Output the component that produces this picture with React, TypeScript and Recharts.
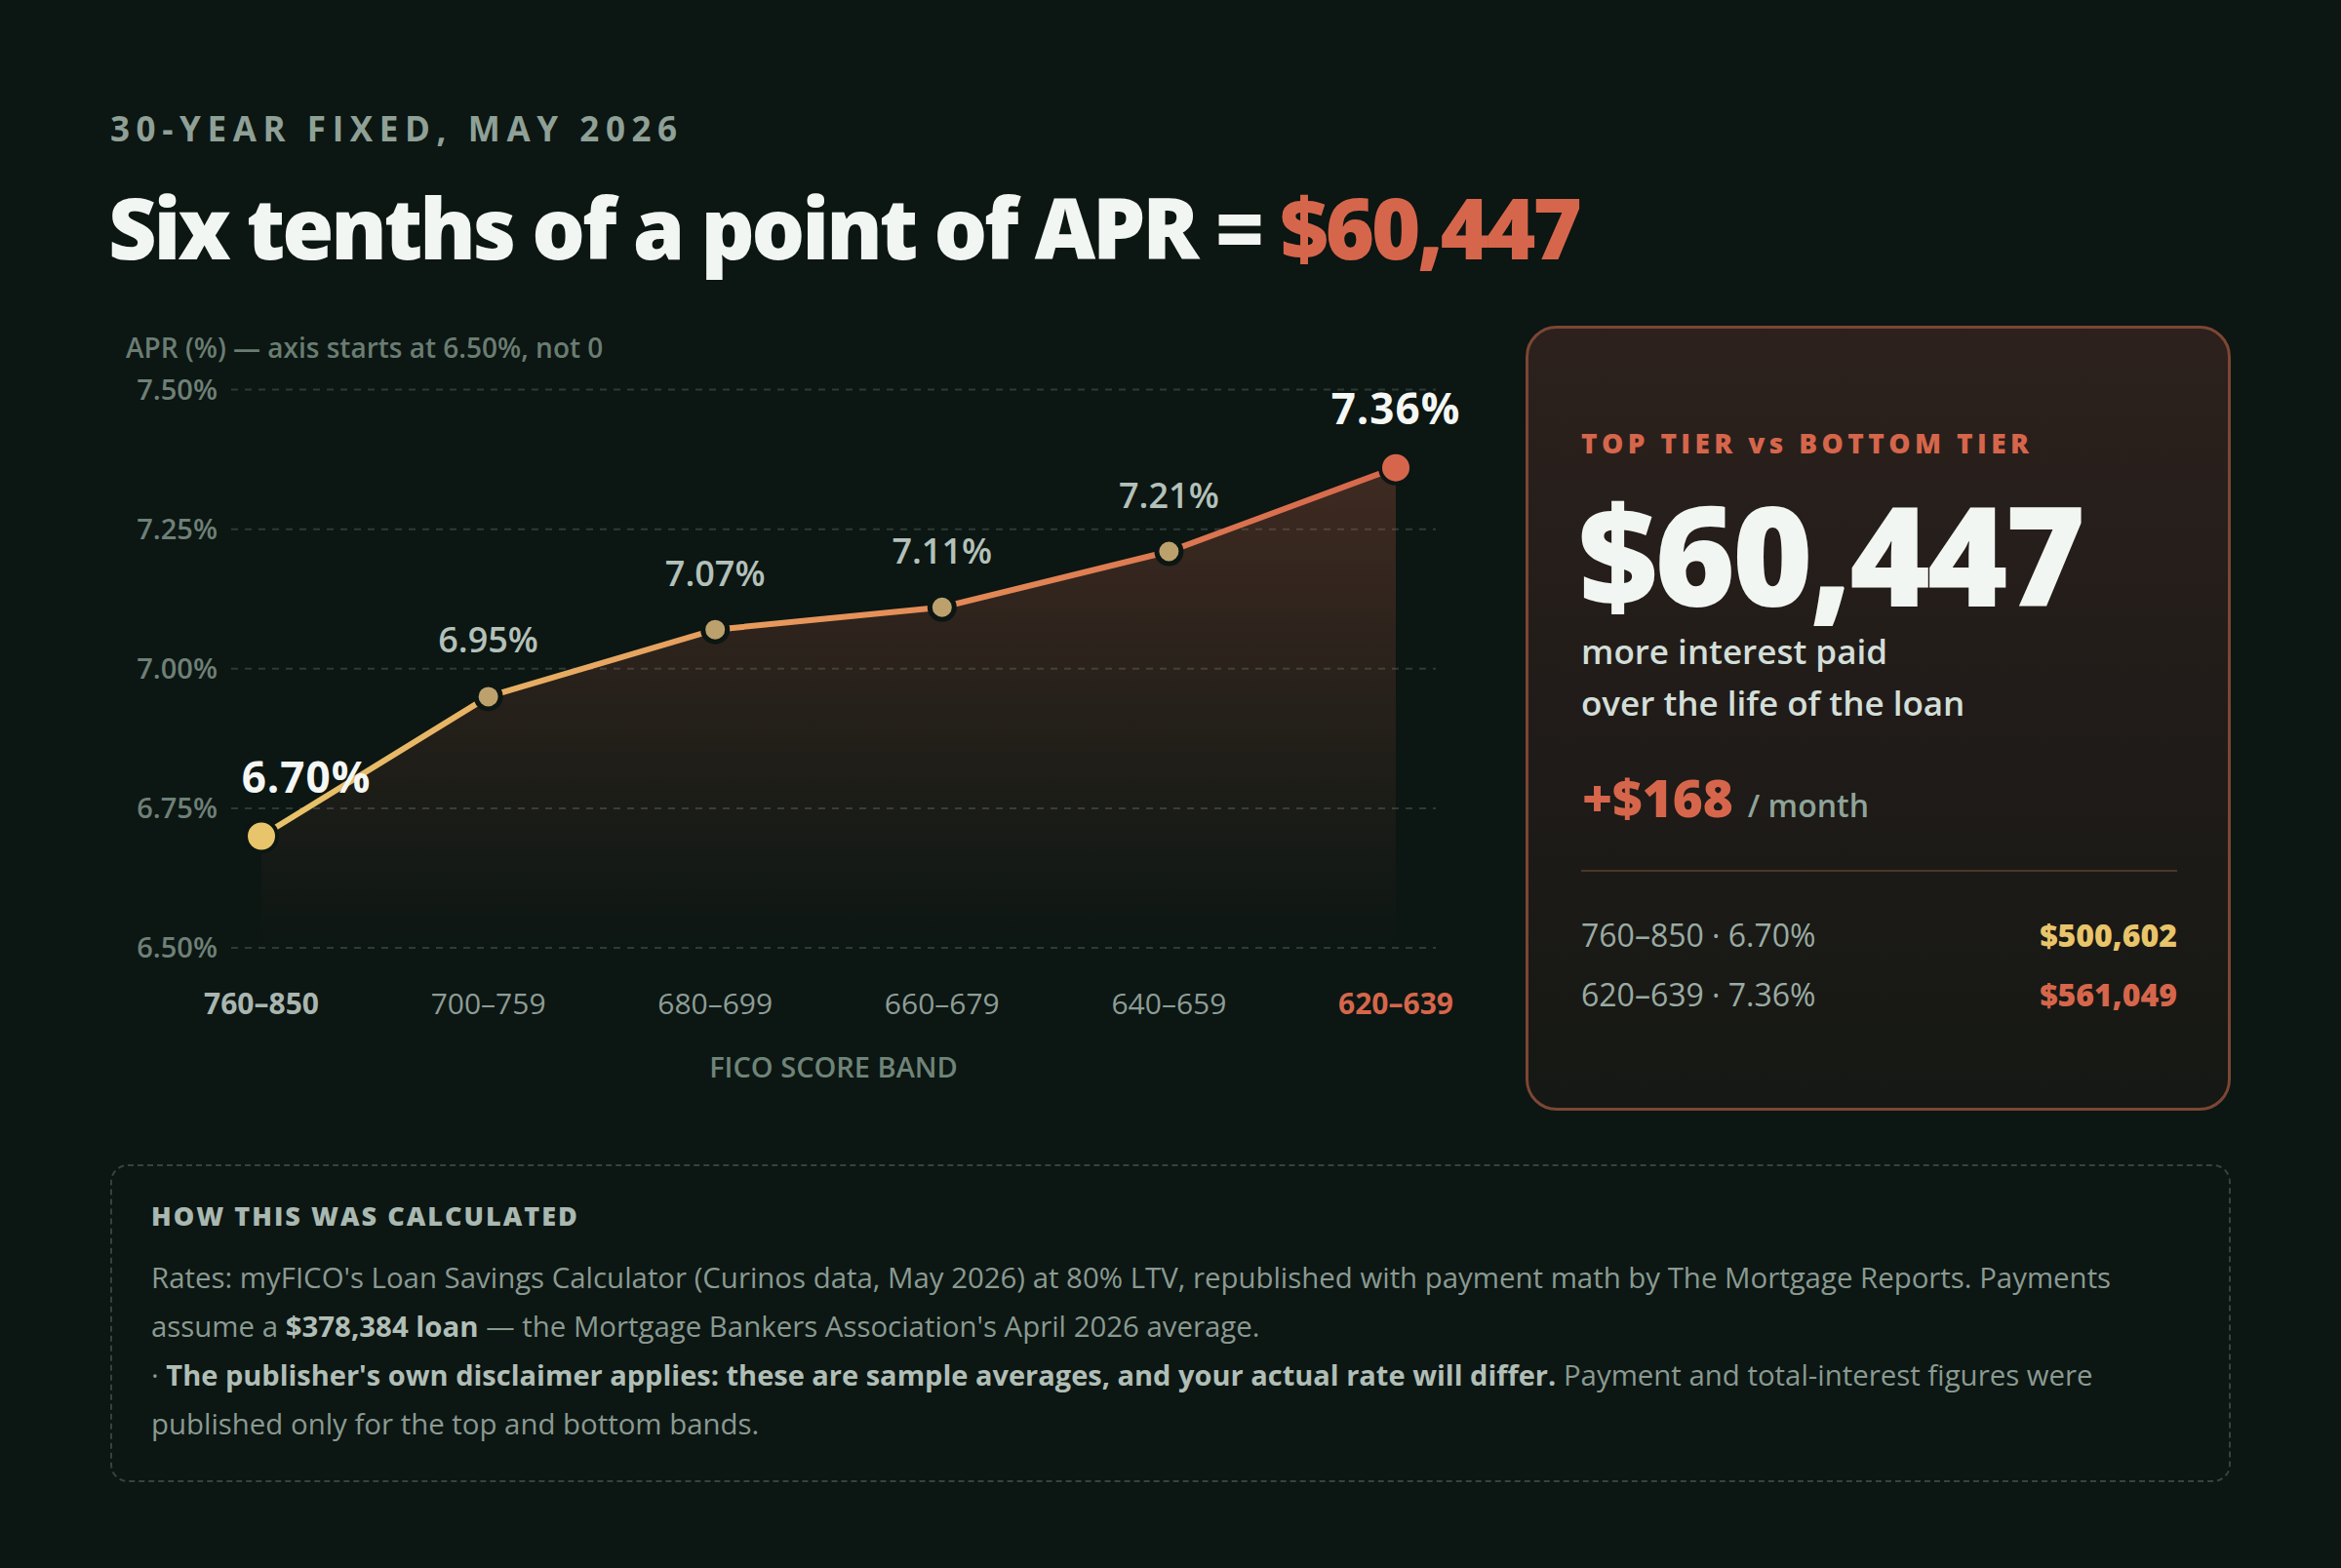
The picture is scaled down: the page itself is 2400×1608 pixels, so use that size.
import { ComposedChart, Area, Line, XAxis, YAxis, CartesianGrid, LabelList } from 'recharts'

const bands = ['760–850', '700–759', '680–699', '660–679', '640–659', '620–639']
const aprs = [6.7, 6.95, 7.07, 7.11, 7.21, 7.36]
const yTicks = [6.5, 6.75, 7.0, 7.25, 7.5]

const tierLabels = ['760–850 · 6.70%', '620–639 · 7.36%']
const tierTotals = ['$500,602', '$561,049']

const data = bands.map((band, i) => ({ band, apr: aprs[i] }))

const FONT = '"Open Sans", "Noto Sans", sans-serif'
const BG = '#0c1613'
const RED = '#d6664b'
const GOLD = '#e8c46a'
const TAN = '#bca16d'
const last = bands.length - 1

function BandTick({ x, y, payload }: any) {
  const i = bands.indexOf(payload.value)
  const edge = i === 0 || i === last
  const fill = i === last ? RED : i === 0 ? '#a9b6b0' : '#8d9d95'
  return (
    <text x={x} y={y} dy="0.71em" textAnchor="middle" fill={fill} fontFamily={FONT} fontSize={30} fontWeight={edge ? 700 : 400}>
      {payload.value}
    </text>
  )
}

function AprDot({ cx, cy, index }: any) {
  const edge = index === 0 || index === last
  const fill = index === 0 ? GOLD : index === last ? RED : TAN
  return <circle key={index} cx={cx} cy={cy} r={edge ? 16 : 12.5} fill={fill} stroke={BG} strokeWidth={edge ? 4 : 5} />
}

function AprLabel({ x, y, value, index }: any) {
  const i = index ?? aprs.indexOf(value)
  const edge = i === 0 || i === last
  return (
    <text
      x={x + (i === 0 ? 46 : 0)}
      y={y - 45}
      textAnchor="middle"
      fill={edge ? '#f4f7f4' : '#b3c1b9'}
      fontFamily={FONT}
      fontSize={edge ? 44 : 36}
      fontWeight={edge ? 700 : 600}
      letterSpacing={edge ? 1 : 0}
    >
      {Number(value).toFixed(2)}%
    </text>
  )
}

export default function App() {
  return (
    <div style={{ position: 'absolute', left: 0, top: 0, width: 2400, height: 1608, overflow: 'hidden', background: BG, fontFamily: FONT }}>
      <div style={{ position: 'absolute', left: 113, top: 114, fontSize: 35, lineHeight: 1, fontWeight: 700, letterSpacing: 6.6, color: '#8fa096', whiteSpace: 'nowrap' }}>
        30-YEAR FIXED, MAY 2026
      </div>
      <div style={{ position: 'absolute', left: 111, top: 190, fontSize: 86, lineHeight: 1, fontWeight: 800, letterSpacing: -3.1, color: '#f2f6f3', whiteSpace: 'nowrap' }}>
        Six tenths of a point of APR = <span style={{ color: RED }}>$60,447</span>
      </div>

      <div style={{ position: 'absolute', left: 129, top: 342, fontSize: 28, lineHeight: 1, fontWeight: 600, color: '#6a7d72', whiteSpace: 'nowrap' }}>
        APR (%) — axis starts at 6.50%, not 0
      </div>

      <div style={{ position: 'absolute', left: 0, top: 0 }}>
        <ComposedChart width={1540} height={1112} data={data} margin={{ top: 399.5, right: 68, bottom: 0, left: 137 }}>
          <defs>
            <linearGradient id="aprFill" x1="0" y1="0" x2="0" y2="1">
              <stop offset="0%" stopColor={RED} stopOpacity={0.42} />
              <stop offset="100%" stopColor={RED} stopOpacity={0} />
            </linearGradient>
            <linearGradient id="aprStroke" x1="0" y1="0" x2="1" y2="0">
              <stop offset="0%" stopColor={GOLD} />
              <stop offset="50%" stopColor="#e6945a" />
              <stop offset="100%" stopColor={RED} />
            </linearGradient>
          </defs>
          <CartesianGrid vertical={false} stroke="#2d3b35" strokeWidth={2} strokeDasharray="7 7" />
          <XAxis
            dataKey="band"
            scale="point"
            padding={{ left: 31, right: 41 }}
            axisLine={false}
            tickLine={false}
            tickMargin={41}
            height={140}
            tick={<BandTick />}
            label={{ value: 'FICO SCORE BAND', position: 'insideBottom', offset: 7, fill: '#6f8478', fontSize: 29, fontWeight: 600, fontFamily: FONT }}
          />
          <YAxis
            domain={[6.5, 7.5]}
            ticks={yTicks}
            width={100}
            axisLine={false}
            tickLine={false}
            tickMargin={8}
            tickFormatter={(v: number) => v.toFixed(2) + '%'}
            tick={{ fill: '#6e8077', fontSize: 29, fontWeight: 600, fontFamily: FONT }}
          />
          <Area type="linear" dataKey="apr" stroke="none" fill="url(#aprFill)" isAnimationActive={false} />
          <Line type="linear" dataKey="apr" stroke="url(#aprStroke)" strokeWidth={6} dot={<AprDot />} activeDot={false} isAnimationActive={false}>
            <LabelList dataKey="apr" content={<AprLabel />} />
          </Line>
        </ComposedChart>
      </div>

      <div
        style={{
          position: 'absolute',
          left: 1564,
          top: 334,
          width: 723,
          height: 805,
          boxSizing: 'border-box',
          border: '3px solid #7d4634',
          borderRadius: 32,
          background: 'linear-gradient(180deg, #2c211d 0%, #1f1b18 55%, #151814 100%)',
        }}
      >
        <div style={{ position: 'absolute', left: 54, top: 103, fontSize: 28, lineHeight: 1, fontWeight: 800, letterSpacing: 4.4, color: RED, whiteSpace: 'nowrap' }}>
          TOP TIER vs BOTTOM TIER
        </div>
        <div style={{ position: 'absolute', left: 51, top: 160, fontSize: 141, lineHeight: 1, fontWeight: 800, letterSpacing: -3, color: '#f2f6f3' }}>
          $60,447
        </div>
        <div style={{ position: 'absolute', left: 54, top: 313, fontSize: 35, lineHeight: 1, fontWeight: 600, color: '#d3ded8', whiteSpace: 'nowrap' }}>more interest paid</div>
        <div style={{ position: 'absolute', left: 54, top: 366, fontSize: 35, lineHeight: 1, fontWeight: 600, color: '#d3ded8', whiteSpace: 'nowrap' }}>over the life of the loan</div>
        <div style={{ position: 'absolute', left: 55, top: 454, display: 'flex', alignItems: 'baseline', lineHeight: 1, whiteSpace: 'nowrap' }}>
          <span style={{ fontSize: 53, fontWeight: 800, color: RED }}>+$168</span>
          <span style={{ fontSize: 32, fontWeight: 600, color: '#8fa398', marginLeft: 15 }}>/ month</span>
        </div>
        <div style={{ position: 'absolute', left: 54, top: 555, width: 611, height: 2, background: '#4a3629' }} />
        {tierLabels.map((label, i) => (
          <div
            key={label}
            style={{ position: 'absolute', left: 54, top: 606 + i * 61, width: 611, display: 'flex', justifyContent: 'space-between', lineHeight: 1, fontSize: 32 }}
          >
            <span style={{ color: '#9aaba3', fontWeight: 500 }}>{label}</span>
            <span style={{ color: i === 0 ? GOLD : RED, fontWeight: 800 }}>{tierTotals[i]}</span>
          </div>
        ))}
      </div>

      <div
        style={{
          position: 'absolute',
          left: 113,
          top: 1194,
          width: 2174,
          height: 326,
          boxSizing: 'border-box',
          border: '2px dashed #34443c',
          borderRadius: 18,
        }}
      >
        <div style={{ position: 'absolute', left: 40, top: 37, fontSize: 27, lineHeight: 1, fontWeight: 800, letterSpacing: 2, color: '#a9b8b0', whiteSpace: 'nowrap' }}>
          HOW THIS WAS CALCULATED
        </div>
        <div style={{ position: 'absolute', left: 40, top: 89, fontSize: 29.4, lineHeight: '50px', color: '#8a9a91', whiteSpace: 'nowrap' }}>
          Rates: myFICO's Loan Savings Calculator (Curinos data, May 2026) at 80% LTV, republished with payment math by The Mortgage Reports. Payments
          <br />
          assume a <b style={{ color: '#b0beb6' }}>$378,384 loan</b> — the Mortgage Bankers Association's April 2026 average.
          <br />· <b style={{ color: '#b0beb6', fontSize: 29 }}>The publisher's own disclaimer applies: these are sample averages, and your actual rate will differ.</b> Payment and total-interest figures were
          <br />
          published only for the top and bottom bands.
        </div>
      </div>
    </div>
  )
}
